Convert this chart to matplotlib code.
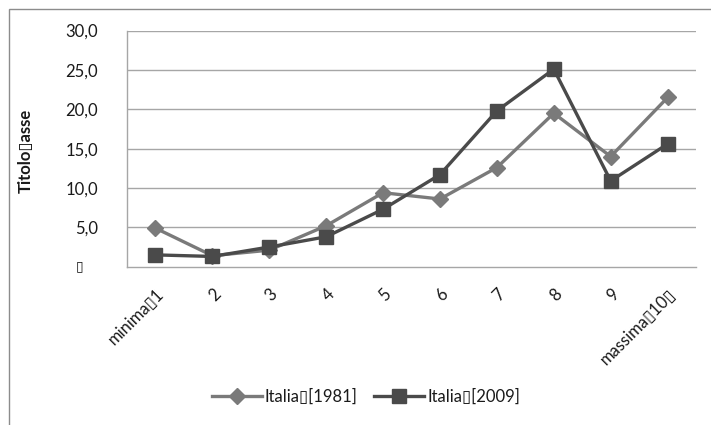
import matplotlib
matplotlib.use("Agg")
import matplotlib.pyplot as plt
from matplotlib.patches import Rectangle

plt.rcParams["font.family"] = ["Lato", "DejaVu Sans"]

# data
categories = ["minima\u25af1", "2", "3", "4", "5", "6", "7", "8", "9", "massima\u25af10\u25af"]
italia_1981 = [4.9, 1.4, 2.1, 5.2, 9.4, 8.6, 12.6, 19.5, 14.0, 21.5]
italia_2009 = [1.5, 1.3, 2.5, 3.8, 7.3, 11.7, 19.8, 25.1, 10.9, 15.6]
yticks = [5, 10, 15, 20, 25, 30]
ytick_labels = ["5,0", "10,0", "15,0", "20,0", "25,0", "30,0"]

C1981 = "#7a7a7a"
C2009 = "#4a4a4a"
GRID = "#a6a6a6"
INK = "#1a1a1a"

fig = plt.figure(figsize=(7.11, 4.25), dpi=100)
fig.patch.set_facecolor("white")
ax = fig.add_axes([0.1786, 0.3725, 0.8004, 0.5555])

x = list(range(len(categories)))
ax.plot(x, italia_1981, color=C1981, linewidth=2.4, marker="D", markersize=8,
        markeredgecolor=C1981, label="Italia\u25af[1981]", zorder=3)
ax.plot(x, italia_2009, color=C2009, linewidth=2.4, marker="s", markersize=10,
        markeredgecolor=C2009, label="Italia\u25af[2009]", zorder=4)

ax.set_xlim(-0.5, len(categories) - 0.5)
ax.set_ylim(0, 30)
ax.set_yticks(yticks, ytick_labels)
ax.set_xticks(x, categories, rotation=45, ha="right", rotation_mode="anchor")
ax.tick_params(axis="both", length=0, labelsize=12, colors=INK)
ax.tick_params(axis="y", pad=21)
ax.tick_params(axis="x", pad=14)
ax.grid(axis="y", color=GRID, linewidth=1)
ax.set_axisbelow(True)
for side in ("top", "right"):
    ax.spines[side].set_visible(False)
for side in ("left", "bottom"):
    ax.spines[side].set_color(GRID)
    ax.spines[side].set_linewidth(1)

# missing zero label (shown as a placeholder glyph in the original)
ax.text(-0.083, 0, "\u25af", transform=ax.get_yaxis_transform(), ha="center", va="center",
        fontsize=10, color=INK, family=["DejaVu Sans"])

ax.set_ylabel("Titolo\u25afasse", fontsize=12, fontweight="bold", color=INK)
ax.yaxis.set_label_coords(-0.163, 0.49)

leg = fig.legend(loc="center", bbox_to_anchor=(0.515, 0.066), ncol=2, frameon=False,
                 fontsize=12, handlelength=3.0, columnspacing=1.0, handletextpad=0.2)
for t in leg.get_texts():
    t.set_color(INK)

fig.patches.append(Rectangle((9 / 711, -0.1), 1.2, 1.1 - 9 / 425, transform=fig.transFigure,
                             fill=False, edgecolor="#8c8c8c", linewidth=1))

fig.savefig("out.png", dpi=100)
